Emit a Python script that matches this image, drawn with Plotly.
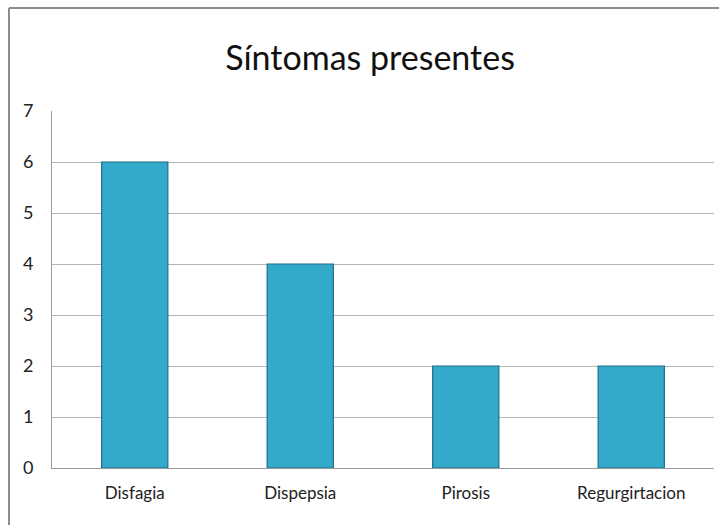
import plotly.graph_objects as go

categories = ["Disfagia", "Dispepsia", "Pirosis", "Regurgirtacion"]
values = [6, 4, 2, 2]
y_ticks = [0, 1, 2, 3, 4, 5, 6, 7]

W, H = 719, 525
ml, mr, mt, mb = 52, 5, 111, 57
pw, ph = W - ml - mr, H - mt - mb

fig = go.Figure(go.Bar(
    x=categories, y=values,
    marker=dict(color="#33aacb", line=dict(color="#1f6f87", width=1.2)),
))

font = "Lato, 'Open Sans', sans-serif"
fig.update_layout(
    width=W, height=H,
    margin=dict(l=ml, r=mr, t=mt, b=mb),
    paper_bgcolor="white", plot_bgcolor="white",
    bargap=0.6,
    showlegend=False,
    title=dict(text="Síntomas presentes", x=(370 - ml) / pw, xref="paper",
               xanchor="center", y=1 - 58 / H, yanchor="middle",
               font=dict(family=font, size=34, color="#111111")),
    xaxis=dict(showgrid=False, showline=True, linecolor="#9a9a9a", linewidth=1,
               ticks="", ticklabelstandoff=10,
               tickfont=dict(family=font, size=17, color="#222222")),
    yaxis=dict(range=[0, 7], tickvals=y_ticks, showgrid=True, gridcolor="#b5b5b5",
               gridwidth=1, showline=True, linecolor="#9a9a9a", linewidth=1,
               ticks="", ticklabelstandoff=14,
               tickfont=dict(family=font, size=18, color="#222222"), zeroline=False),
    shapes=[
        dict(type="line", xref="paper", yref="paper",
             x0=(9 - ml) / pw, x1=(9 - ml) / pw, y0=1 + (mt - 8) / ph, y1=-(mb + 10) / ph,
             line=dict(color="#8c8c8c", width=2)),
        dict(type="line", xref="paper", yref="paper",
             x0=(9 - ml) / pw, x1=1 + (mr + 10) / pw, y0=1 + (mt - 8) / ph, y1=1 + (mt - 8) / ph,
             line=dict(color="#8c8c8c", width=2)),
    ],
)

fig.write_html("out.html")
